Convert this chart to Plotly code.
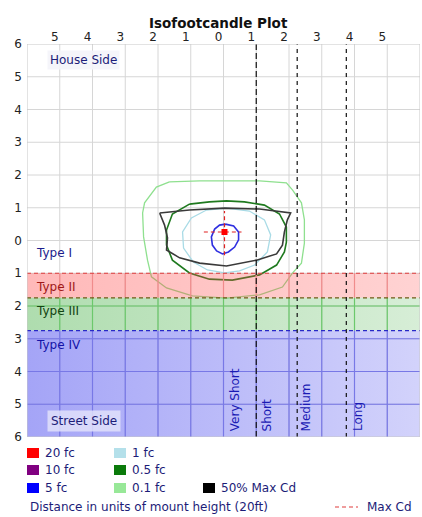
import plotly.graph_objects as go

# ---------------- data ----------------
x_ticks = [-5, -4, -3, -2, -1, 0, 1, 2, 3, 4, 5]
x_tick_labels = ["5", "4", "3", "2", "1", "0", "1", "2", "3", "4", "5"]
y_ticks = [-6, -5, -4, -3, -2, -1, 0, 1, 2, 3, 4, 5, 6]
y_tick_labels = ["6", "5", "4", "3", "2", "1", "0", "1", "2", "3", "4", "5", "6"]

# lateral type boundaries (street side, units of mount height)
type_bounds = [-1.0, -1.75, -2.75, -6.0]
type_names = ["Type I", "Type II", "Type III", "Type IV"]
# longitudinal boundaries
long_bounds = [1.0, 2.25, 3.75]
long_names = ["Very Short", "Short", "Medium", "Long"]

# isofootcandle contours (x, y in mount heights)
c01_x = [-1.65, -0.73, 0.09, 1.10, 1.92, 2.11, 2.38, 2.47, 2.47, 2.38, 2.11, 1.80, 1.10, 0.09, -0.95, -1.74, -2.20, -2.32, -2.44, -2.47, -2.41, -2.05, -1.65]
c01_y = [1.79, 1.82, 1.82, 1.82, 1.76, 1.54, 1.15, 0.63, -0.08, -0.69, -0.99, -1.42, -1.66, -1.76, -1.69, -1.45, -1.11, -0.60, 0.11, 0.84, 1.15, 1.63, 1.79]

c05_x = [-1.04, -0.43, 0.09, 0.64, 1.25, 1.71, 1.92, 1.92, 1.86, 1.62, 1.10, 0.27, -0.43, -1.04, -1.56, -1.74, -1.74, -1.56, -1.04]
c05_y = [1.11, 1.18, 1.21, 1.18, 1.08, 0.81, 0.41, -0.05, -0.35, -0.75, -1.05, -1.21, -1.18, -0.99, -0.60, -0.14, 0.32, 0.81, 1.11]

c1_x = [0.09, 0.79, 1.25, 1.44, 1.34, 0.95, 0.49, 0.03, -0.49, -0.92, -1.22, -1.25, -0.98, -0.52, 0.09]
c1_y = [0.99, 0.90, 0.63, 0.17, -0.35, -0.75, -0.93, -0.99, -0.90, -0.66, -0.23, 0.26, 0.69, 0.93, 0.99]

c5_x = [0.06, 0.31, 0.46, 0.46, 0.34, 0.15, -0.03, -0.21, -0.34, -0.37, -0.27, -0.12, 0.06]
c5_y = [0.50, 0.44, 0.26, 0.02, -0.20, -0.35, -0.41, -0.32, -0.14, 0.11, 0.35, 0.47, 0.50]

cd50_x = [-1.95, -1.04, 0.03, 1.10, 2.05, 1.95, 1.86, 1.80, 1.62, 1.01, 0.09, -0.73, -1.34, -1.74, -1.71, -1.80, -1.95]
cd50_y = [0.84, 0.93, 0.99, 0.96, 0.84, 0.63, 0.26, -0.14, -0.41, -0.60, -0.78, -0.69, -0.53, -0.29, 0.08, 0.47, 0.84]

max_cd = [0.03, 0.26]
max_cd_cross_x = [-0.60, 0.55]
max_cd_cross_y = [-0.45, 0.90]

legend_labels = ["20 fc", "10 fc", "5 fc", "1 fc", "0.5 fc", "0.1 fc", "50% Max Cd"]

# ---------------- layout helpers ----------------
W, H = 422, 517
L, R, T, B = 27, 2, 44, 80
PW, PH = W - L - R, H - T - B


def px_x(px):
    return (px - L) / PW


def px_y(py):
    return (T + PH - py) / PH


FONT = "DejaVu Sans"
NAVY = "#1c1c78"

fig = go.Figure()

# gray grid everywhere
gx, gy = [], []
for v in range(-5, 6):
    gx += [v, v, None]
    gy += [-6, 6, None]
for v in range(-5, 6):
    gx += [-6, 6, None]
    gy += [v, v, None]
fig.add_trace(go.Scatter(x=gx, y=gy, mode="lines", line=dict(color="#d6d6d6", width=1),
                         hoverinfo="skip", showlegend=False))

# contours
contours = [
    (c01_x, c01_y, "#8fe08f", 1.3),
    (c05_x, c05_y, "#1f7a1f", 1.6),
    (c1_x, c1_y, "#a9dbe6", 1.3),
    (cd50_x, cd50_y, "#3a3a3a", 1.6),
    (c5_x, c5_y, "#2f2fe0", 1.6),
]
for cx, cy, col, w in contours:
    fig.add_trace(go.Scatter(x=cx, y=cy, mode="lines", line=dict(color=col, width=w),
                             hoverinfo="skip", showlegend=False))

# type bands with horizontal gradient
band_specs = [
    (type_bounds[0], type_bounds[1], (255, 70, 70), 0.38, 0.24),
    (type_bounds[1], type_bounds[2], (80, 180, 80), 0.46, 0.23),
    (type_bounds[2], type_bounds[3], (90, 90, 240), 0.55, 0.27),
]
for top, bot, rgb, a0, a1 in band_specs:
    r, g, b = rgb
    fig.add_trace(go.Scatter(
        x=[-6, 6, 6, -6, -6], y=[top, top, bot, bot, top], mode="lines",
        line=dict(width=0), fill="toself",
        fillgradient=dict(type="horizontal",
                          colorscale=[[0, f"rgba({r},{g},{b},{a0})"], [1, f"rgba({r},{g},{b},{a1})"]]),
        hoverinfo="skip", showlegend=False))

# colored grid lines inside bands
band_grid_cols = ["#f08c8c", "#6cc86c", "#7878e6"]
for (top, bot, *_), col in zip(band_specs, band_grid_cols):
    bx, by = [], []
    for v in range(-5, 6):
        bx += [v, v, None]
        by += [top, bot, None]
    for v in range(-5, 6):
        if bot < v < top:
            bx += [-6, 6, None]
            by += [v, v, None]
    fig.add_trace(go.Scatter(x=bx, y=by, mode="lines", line=dict(color=col, width=1.2),
                             hoverinfo="skip", showlegend=False))

# band boundary dashed lines
for yv, col in zip(type_bounds[:3], ["#e03c3c", "#6e5a14", "#2828c8"]):
    fig.add_trace(go.Scatter(x=[-6, 6], y=[yv, yv], mode="lines",
                             line=dict(color=col, width=1.2, dash="4px,3px"),
                             hoverinfo="skip", showlegend=False))

# longitudinal dashed lines
for xv, d in zip(long_bounds, ["6px,3px", "4px,4px", "4px,4px"]):
    fig.add_trace(go.Scatter(x=[xv, xv], y=[-6, 6], mode="lines",
                             line=dict(color="#111111", width=1.2, dash=d),
                             hoverinfo="skip", showlegend=False))

# max cd cross + point
fig.add_trace(go.Scatter(x=max_cd_cross_x, y=[max_cd[1]] * 2, mode="lines",
                         line=dict(color="#e02020", width=1.2, dash="4px,3px"),
                         hoverinfo="skip", showlegend=False))
fig.add_trace(go.Scatter(x=[max_cd[0]] * 2, y=max_cd_cross_y, mode="lines",
                         line=dict(color="#e02020", width=1.2, dash="4px,3px"),
                         hoverinfo="skip", showlegend=False))
fig.add_trace(go.Scatter(x=[max_cd[0]], y=[max_cd[1]], mode="markers",
                         marker=dict(symbol="square", size=6, color="#ff0000"),
                         hoverinfo="skip", showlegend=False))

annotations = []
# title
annotations.append(dict(text="<b>Isofootcandle Plot</b>", xref="paper", yref="paper",
                        x=px_x(218), y=px_y(13), showarrow=False,
                        font=dict(family=FONT, size=13.5, color="#111111")))
# band labels
band_label_y = [-0.38, -1.42, -2.15, -3.19]
band_label_cols = ["#1c1c8c", "#a01818", "#124412", "#1414a8"]
for name, yv, col in zip(type_names, band_label_y, band_label_cols):
    annotations.append(dict(text=name, x=-5.78, y=yv, xanchor="left", yanchor="middle",
                            showarrow=False, font=dict(family=FONT, size=12, color=col)))
# side labels
annotations.append(dict(text="House Side", x=-5.4, y=5.5, xanchor="left", yanchor="middle",
                        showarrow=False, bgcolor="rgba(244,244,250,0.9)", borderpad=2,
                        font=dict(family=FONT, size=12, color=NAVY)))
annotations.append(dict(text="Street Side", x=-5.4, y=-5.5, xanchor="left", yanchor="middle",
                        showarrow=False, bgcolor="rgba(225,225,250,0.85)", borderpad=3,
                        font=dict(family=FONT, size=12, color=NAVY)))
# longitudinal labels (rotated)
long_label_x = [0.34, 1.34, 2.53, 4.09]
for name, xv in zip(long_names, long_label_x):
    annotations.append(dict(text=name, x=xv, y=-5.88, xanchor="center", yanchor="bottom",
                            textangle=-90, showarrow=False,
                            font=dict(family=FONT, size=12, color="#1a1ab4")))

# legend
shapes = []
leg_cols = ["#ff0000", "#800080", "#0000ff", "#b4e0ea", "#0a7a0a", "#98e898", "#000000"]
leg_pos = [(27, 453), (27, 470), (27, 488), (114, 453), (114, 470), (114, 488), (203, 488)]
for lab, col, (lx, ly) in zip(legend_labels, leg_cols, leg_pos):
    shapes.append(dict(type="rect", xref="paper", yref="paper",
                       x0=px_x(lx), x1=px_x(lx + 12), y0=px_y(ly + 5), y1=px_y(ly - 5),
                       fillcolor=col, line=dict(width=0)))
    annotations.append(dict(text=lab, xref="paper", yref="paper", x=px_x(lx + 16), y=px_y(ly),
                            xanchor="left", yanchor="middle", showarrow=False,
                            font=dict(family=FONT, size=12, color=NAVY)))
annotations.append(dict(text="Distance in units of mount height (20ft)", xref="paper", yref="paper",
                        x=px_x(28), y=px_y(507), xanchor="left", yanchor="middle", showarrow=False,
                        font=dict(family=FONT, size=12, color=NAVY)))
shapes.append(dict(type="line", xref="paper", yref="paper", x0=px_x(335), x1=px_x(358),
                   y0=px_y(507), y1=px_y(507), line=dict(color="#e03c3c", width=1.2, dash="4px,3px")))
annotations.append(dict(text="Max Cd", xref="paper", yref="paper", x=px_x(365), y=px_y(507),
                        xanchor="left", yanchor="middle", showarrow=False,
                        font=dict(family=FONT, size=12, color=NAVY)))
# plot border
shapes.append(dict(type="rect", xref="x", yref="y", x0=-6, x1=6, y0=-6, y1=6,
                   line=dict(color="#c8c8c8", width=1), layer="above"))

fig.update_layout(
    width=W, height=H, margin=dict(l=L, r=R, t=T, b=B, autoexpand=False),
    paper_bgcolor="white", plot_bgcolor="white",
    showlegend=False, annotations=annotations, shapes=shapes,
    xaxis=dict(range=[-6, 6], side="top", tickvals=x_ticks, ticktext=x_tick_labels,
               showgrid=False, zeroline=False, showline=False, ticks="", automargin=False,
               ticklabelshift=-5, tickfont=dict(family=FONT, size=12, color="#222222"),
               fixedrange=True),
    yaxis=dict(range=[-6, 6], tickvals=y_ticks, ticktext=y_tick_labels,
               showgrid=False, zeroline=False, showline=False, ticks="", automargin=False,
               ticklabelstandoff=4, tickfont=dict(family=FONT, size=12, color="#222222"),
               fixedrange=True),
)

fig.write_html("out.html", config={"displayModeBar": False},
               post_script="document.body.style.margin='0';document.body.style.padding='0';")
